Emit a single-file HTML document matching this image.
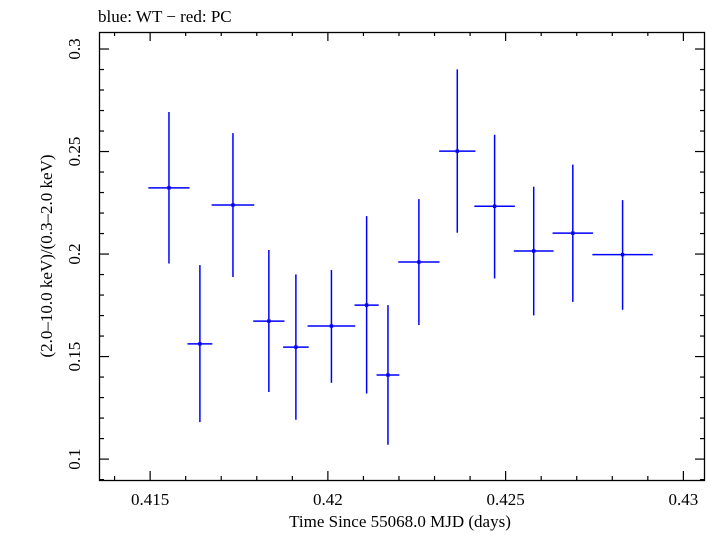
<!DOCTYPE html>
<html><head><meta charset="utf-8"><style>
html,body{margin:0;padding:0;background:#fff;}
svg text{font-family:"Liberation Serif",serif;fill:#000;}
</style></head><body>
<svg id="chart" width="716" height="532" xmlns="http://www.w3.org/2000/svg">
<text x="98" y="22" font-size="17">blue: WT − red: PC</text>
<rect x="99.5" y="32.5" width="605" height="448" fill="none" stroke="#000" stroke-width="1.3"/>
<g id="ticks"></g>
<g id="marks"></g>
<text x="400" y="527" font-size="17" text-anchor="middle">Time Since 55068.0 MJD (days)</text>
<text transform="translate(52,256) rotate(-90)" font-size="17" text-anchor="middle">(2.0–10.0 keV)/(0.3–2.0 keV)</text>
</svg>
<script>
const times=[0.41553,0.41640,0.41733,0.41834,0.41910,0.42010,0.42109,0.42169,0.42256,0.42364,0.42469,0.42579,0.42689,0.42829];
const timeErr=[0.00058,0.00035,0.00060,0.00044,0.00036,0.00067,0.00034,0.00032,0.00058,0.00051,0.00057,0.00056,0.00057,0.00085];
const ratios=[0.2323,0.1562,0.2239,0.1673,0.1546,0.1649,0.1751,0.1410,0.1961,0.2502,0.2233,0.2015,0.2102,0.1997];
const ratioHi=[0.2693,0.1946,0.2590,0.2020,0.1901,0.1922,0.2185,0.1751,0.2268,0.2901,0.2582,0.2328,0.2436,0.2263];
const ratioLo=[0.1954,0.1180,0.1888,0.1327,0.1192,0.1372,0.1320,0.1070,0.1654,0.2104,0.1881,0.1701,0.1767,0.1728];
const xTickLabels=["0.415","0.42","0.425","0.43"];
const yTickLabels=["0.1","0.15","0.2","0.25","0.3"];

const X0=100,X1=704,Y0=480,Y1=32;
const xmin=0.41359,xmax=0.43058,ymin=0.0898,ymax=0.3083;
function xs(t){return X0+(t-xmin)/(xmax-xmin)*(X1-X0);}
function ys(v){return Y0-(v-ymin)/(ymax-ymin)*(Y0-Y1);}
const NS="http://www.w3.org/2000/svg";
function mk(tag,attrs,parent){const e=document.createElementNS(NS,tag);for(const k in attrs)e.setAttribute(k,attrs[k]);parent.appendChild(e);return e;}
const tg=document.getElementById('ticks');
const svg=document.getElementById('chart');
// x ticks
for(let i=0;i<=20;i++){const t=0.414+i*0.001;if(t<xmin||t>xmax)continue;const x=xs(t);
 const major=Math.abs((t*1000)%5)<1e-6||Math.abs((t*1000)%5-5)<1e-6;const L=major?9:4;
 const a=mk('line',{x1:x,x2:x,y1:Y0,y2:Y0-L,stroke:'#000','stroke-width':1.2},tg);
 
 
 const b=mk('line',{x1:x,x2:x,y1:Y1,y2:Y1+L,stroke:'#000','stroke-width':1.2},tg);
 
 }
xTickLabels.forEach(s=>{const t=parseFloat(s);const e=mk('text',{x:xs(t),y:505,'font-size':17,'text-anchor':'middle'},svg);e.textContent=s;
 
 });
// y ticks
for(let i=0;i<=22;i++){const v=0.09+i*0.01;if(v<ymin||v>ymax)continue;const y=ys(v);
 const major=Math.abs(Math.round(v*100)%5)===0;const L=major?9:4;
 const a=mk('line',{x1:X0,x2:X0+L,y1:y,y2:y,stroke:'#000','stroke-width':1.2},tg);
 
 
 const b=mk('line',{x1:X1,x2:X1-L,y1:y,y2:y,stroke:'#000','stroke-width':1.2},tg);
 
 }
yTickLabels.forEach(s=>{const v=parseFloat(s);const e=mk('text',{transform:`translate(80,${ys(v)}) rotate(-90)`,'font-size':17,'text-anchor':'middle'},svg);e.textContent=s;
 
 });
// data
const mg=document.getElementById('marks');
times.forEach((t,i)=>{
 const x=xs(t),y=ys(ratios[i]);
 const h=mk('line',{x1:xs(t-timeErr[i]),x2:xs(t+timeErr[i]),y1:y,y2:y,stroke:'#0000ff','stroke-width':1.5},mg);
 
 
 const v=mk('line',{x1:x,x2:x,y1:ys(ratioHi[i]),y2:ys(ratioLo[i]),stroke:'#0000ff','stroke-width':1.5},mg);
 
 
 const p=mk('rect',{x:x-1.7,y:y-1.7,width:3.4,height:3.4,fill:'#0000ff'},mg);
 
 
});
</script>
</body></html>
